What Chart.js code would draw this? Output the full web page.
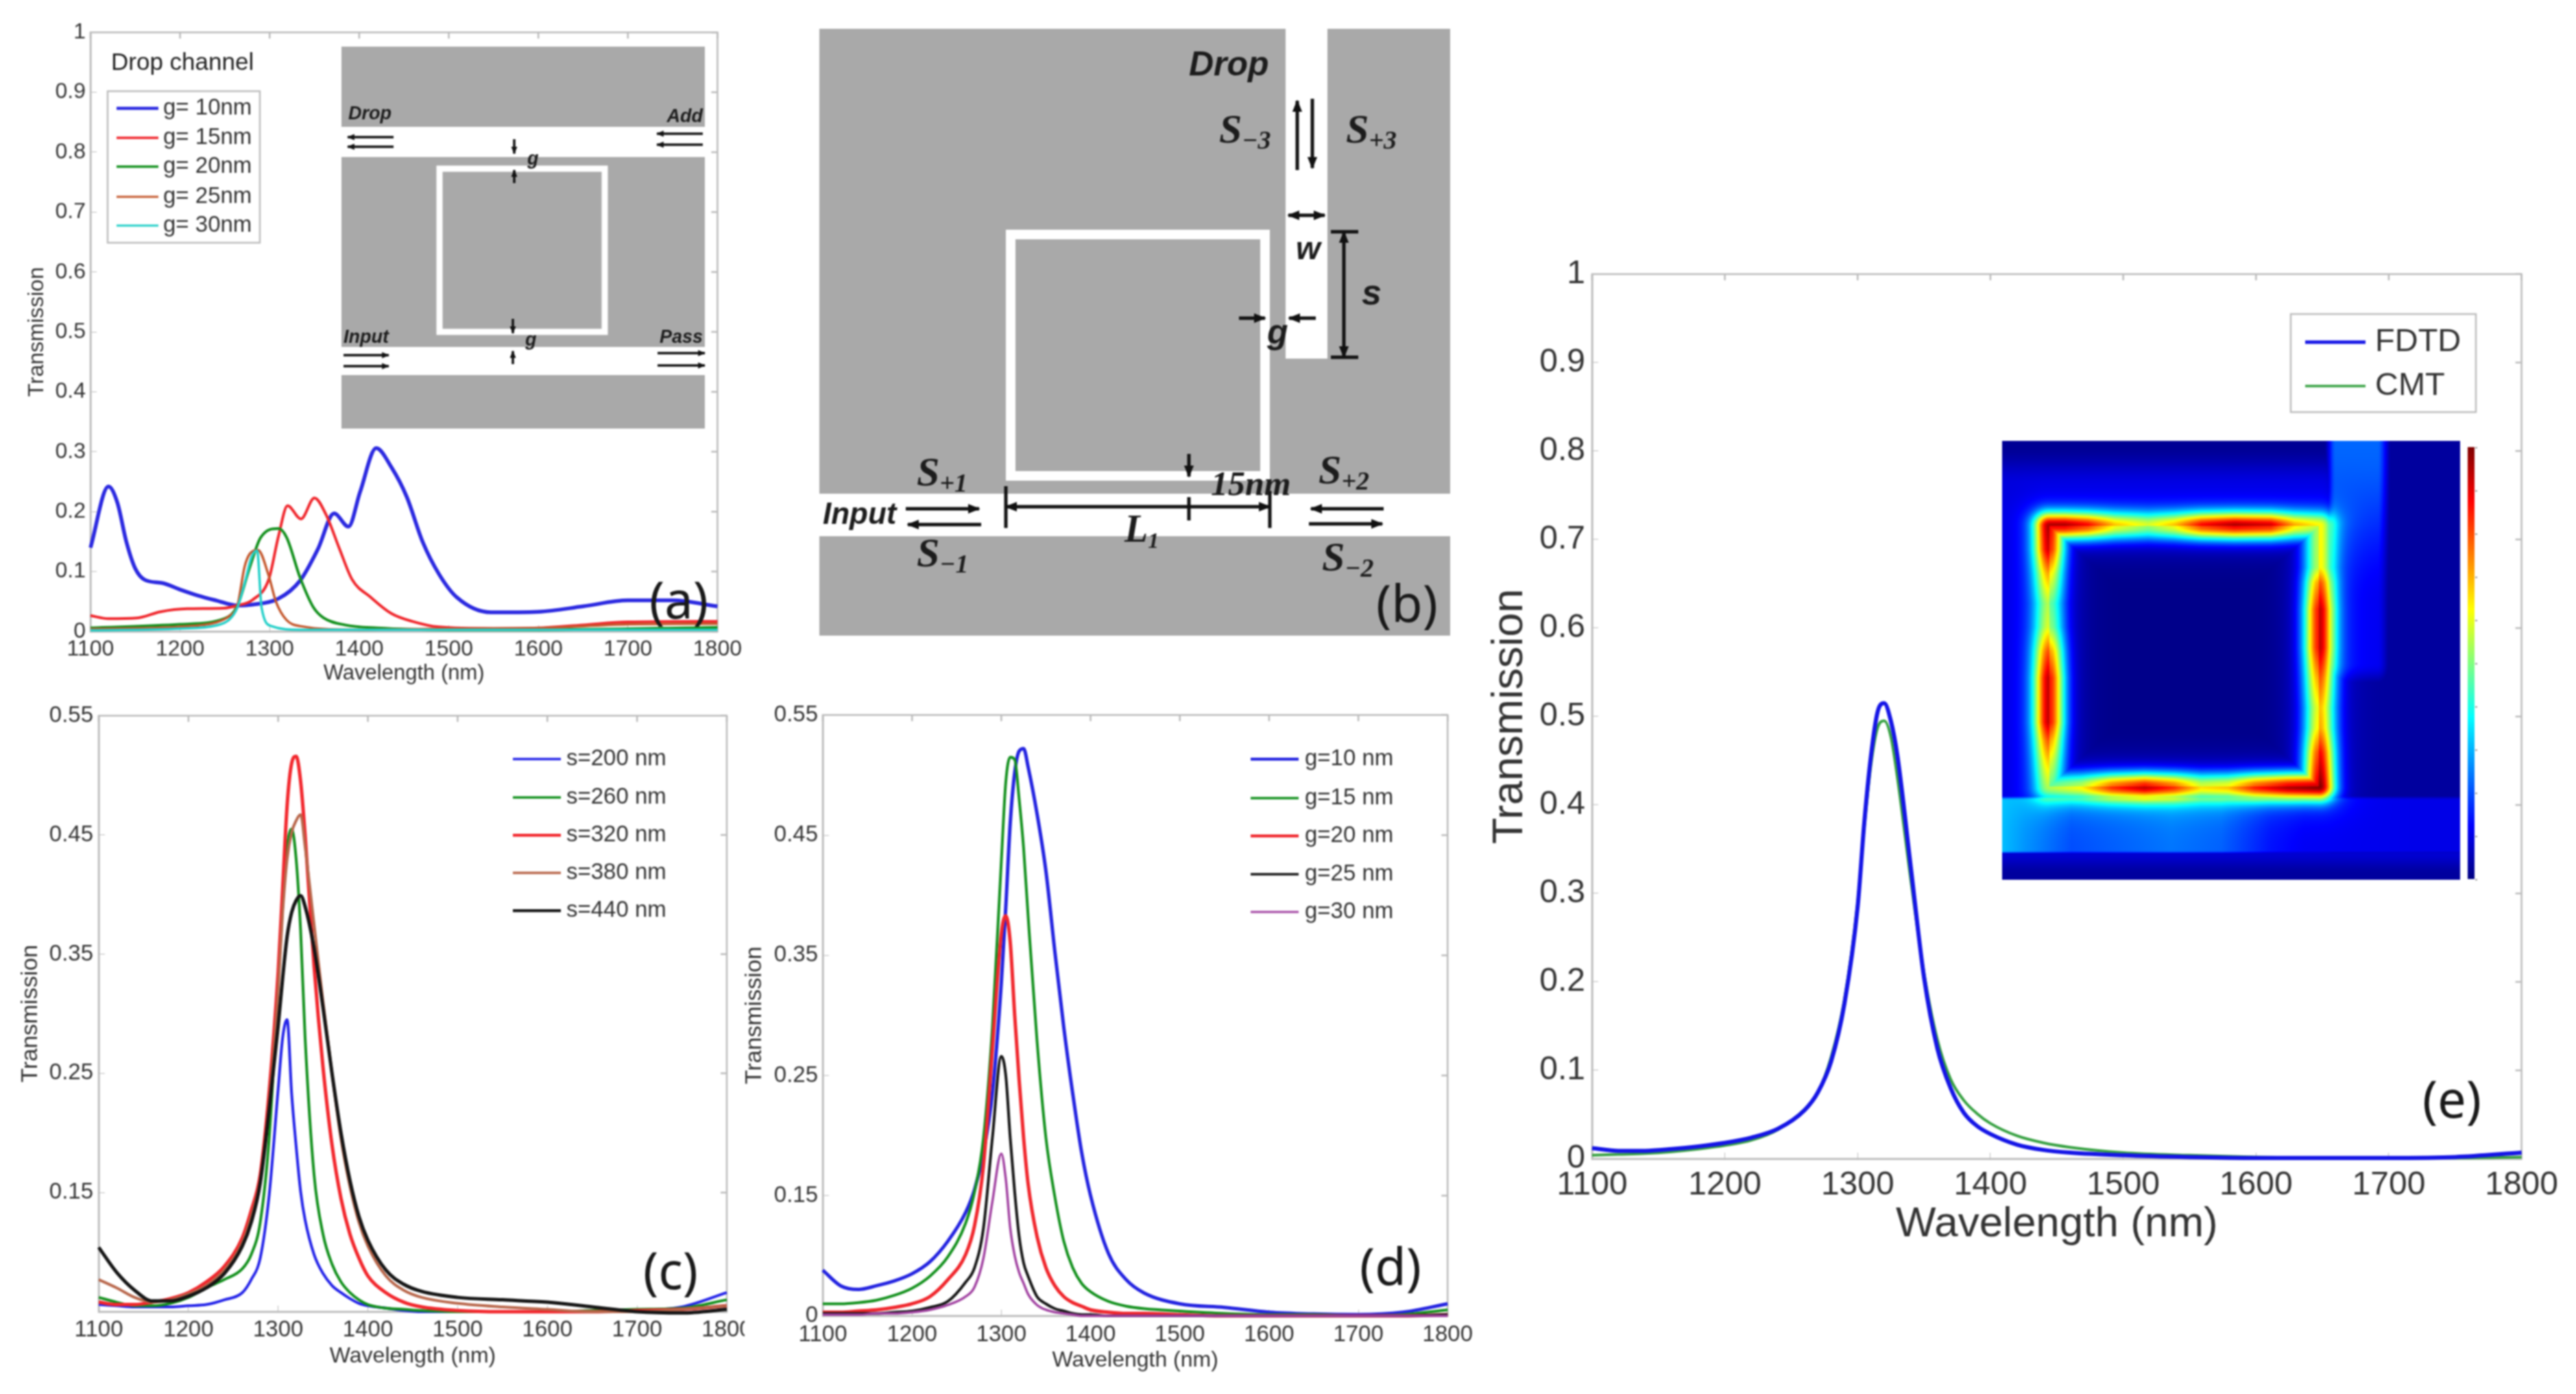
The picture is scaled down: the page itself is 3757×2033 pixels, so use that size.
<!DOCTYPE html>
<html>
<head>
<meta charset="utf-8">
<title>Transmission spectra</title>
<script src="https://cdn.jsdelivr.net/npm/chart.js@4/dist/chart.umd.min.js"></script>
<style>
html, body { margin: 0; padding: 0; background: #fff; }
#page { position: relative; width: 3757px; height: 2033px; overflow: hidden; background: #fff; filter: blur(1.1px); }
#page canvas, #page svg { position: absolute; }
.lab { font-family: "Liberation Sans"; font-weight: bold; font-style: italic; fill: #1c1c1c; }
.sym { font-family: "Liberation Serif"; font-weight: bold; font-style: italic; fill: #1c1c1c; }
.pan { font-family: "Noto Sans"; fill: #181818; font-size: 74px; text-anchor: middle; }
</style>
</head>
<body>
<div id="page">
<canvas id="chartA"></canvas>
<canvas id="chartC"></canvas>
<canvas id="chartD"></canvas>
<canvas id="chartE"></canvas>
<canvas id="heat" width="700" height="650" style="left:2920px;top:643px"></canvas>
<svg width="3757" height="2033" style="left:0;top:0">
  <defs>
    <marker id="ah" viewBox="0 0 10 10" refX="9" refY="5" markerUnits="userSpaceOnUse" markerWidth="18" markerHeight="18" orient="auto-start-reverse"><path d="M0 1L10 5L0 9z" fill="#111"/></marker>
    <marker id="as" viewBox="0 0 10 10" refX="9" refY="5" markerUnits="userSpaceOnUse" markerWidth="11" markerHeight="11" orient="auto-start-reverse"><path d="M0 1L10 5L0 9z" fill="#111"/></marker>
  </defs>

  <!-- inset of (a) -->
  <rect x="498" y="68" width="530" height="557" fill="#a9a9a9"/>
  <rect x="498" y="185" width="530" height="44" fill="#fff"/>
  <rect x="498" y="506" width="530" height="41" fill="#fff"/>
  <rect x="641" y="246" width="241" height="238" fill="none" stroke="#fff" stroke-width="9"/>
  <g stroke="#111" stroke-width="3.5" fill="none" marker-end="url(#as)">
    <line x1="574" y1="200" x2="507" y2="200"/><line x1="574" y1="214" x2="507" y2="214"/>
    <line x1="1025" y1="195" x2="958" y2="195"/><line x1="1025" y1="211" x2="958" y2="211"/>
    <line x1="501" y1="518" x2="567" y2="518"/><line x1="501" y1="534" x2="567" y2="534"/>
    <line x1="959" y1="515" x2="1028" y2="515"/><line x1="959" y1="533" x2="1028" y2="533"/>
    <line x1="750" y1="203" x2="750" y2="224"/><line x1="750" y1="267" x2="750" y2="248"/>
    <line x1="748" y1="465" x2="748" y2="486"/><line x1="748" y1="531" x2="748" y2="512"/>
  </g>
  <g class="lab" font-size="27">
    <text x="508" y="174">Drop</text>
    <text x="1025" y="178" text-anchor="end">Add</text>
    <text x="501" y="500">Input</text>
    <text x="1025" y="500" text-anchor="end">Pass</text>
    <text x="769" y="240">g</text>
    <text x="766" y="504">g</text>
  </g>

  <!-- schematic (b) -->
  <rect x="1195" y="42" width="920" height="885" fill="#a9a9a9"/>
  <rect x="1875" y="42" width="61" height="481" fill="#fff"/>
  <rect x="1195" y="720" width="920" height="62" fill="#fff"/>
  <rect x="1474" y="342" width="371" height="352" fill="none" stroke="#fff" stroke-width="14"/>
  <g stroke="#111" stroke-width="5" fill="none">
    <line x1="1892" y1="248" x2="1892" y2="147" marker-end="url(#ah)"/>
    <line x1="1914" y1="144" x2="1914" y2="245" marker-end="url(#ah)"/>
    <line x1="1879" y1="314" x2="1932" y2="314" marker-end="url(#ah)" marker-start="url(#ah)"/>
    <line x1="1960" y1="338" x2="1960" y2="521" marker-end="url(#ah)" marker-start="url(#ah)"/>
    <line x1="1941" y1="338" x2="1981" y2="338"/><line x1="1941" y1="521" x2="1981" y2="521"/>
    <line x1="1807" y1="464" x2="1845" y2="464" marker-end="url(#ah)"/>
    <line x1="1919" y1="464" x2="1880" y2="464" marker-end="url(#ah)"/>
    <line x1="1734" y1="662" x2="1734" y2="695" marker-end="url(#ah)"/>
    <line x1="1467" y1="739" x2="1852" y2="739" marker-end="url(#ah)" marker-start="url(#ah)"/>
    <line x1="1467" y1="709" x2="1467" y2="770"/><line x1="1852" y1="716" x2="1852" y2="770"/>
    <line x1="1734" y1="725" x2="1734" y2="759"/>
    <line x1="1321" y1="742" x2="1428" y2="742" marker-end="url(#ah)"/>
    <line x1="1431" y1="765" x2="1324" y2="765" marker-end="url(#ah)"/>
    <line x1="2018" y1="742" x2="1912" y2="742" marker-end="url(#ah)"/>
    <line x1="1909" y1="764" x2="2016" y2="764" marker-end="url(#ah)"/>
  </g>
  <text class="lab" x="1734" y="110" font-size="50">Drop</text>
  <text class="lab" x="1200" y="764" font-size="44">Input</text>
  <text class="lab" x="1890" y="378" font-size="46">w</text>
  <text class="lab" x="1986" y="444" font-size="52">s</text>
  <text class="lab" x="1848" y="501" font-size="50">g</text>
  <g class="sym" font-size="60">
    <text x="1778" y="208">S<tspan font-size="38" dy="9">−3</tspan></text>
    <text x="1963" y="208">S<tspan font-size="38" dy="9">+3</tspan></text>
    <text x="1337" y="708">S<tspan font-size="38" dy="9">+1</tspan></text>
    <text x="1337" y="826">S<tspan font-size="38" dy="9">−1</tspan></text>
    <text x="1923" y="705">S<tspan font-size="38" dy="9">+2</tspan></text>
    <text x="1928" y="832">S<tspan font-size="38" dy="9">−2</tspan></text>
    <text x="1640" y="790" font-size="56">L<tspan font-size="32" dy="9">1</tspan></text>
    <text x="1766" y="722" font-size="50">15nm</text>
  </g>

  <text class="pan" x="990" y="902">(a)</text>
  <text class="pan" x="2052" y="907">(b)</text>
  <text class="pan" x="978" y="1880">(c)</text>
  <text class="pan" x="2028" y="1874">(d)</text>
  <text class="pan" x="3576" y="1630">(e)</text>
</svg>
</div>

<script>
// panel (a) - drop channel, every curve has its own sampling
const aBlueX = [1100,1120,1130,1140,1150,1161,1180,1200,1220,1240,1264,1281,1310,1334,1354,1372,1388,1401,1419,1436,1453,1471,1489,1509,1547,1600,1650,1700,1750,1800];
const aBlueY = [0.14,0.242,0.215,0.15,0.105,0.086,0.081,0.07,0.06,0.052,0.0435,0.045,0.055,0.085,0.138,0.197,0.175,0.233,0.306,0.274,0.225,0.149,0.096,0.057,0.032,0.033,0.042,0.052,0.052,0.042];
const aRedX = [1100,1120,1152,1178,1208,1249,1264,1281,1299,1310,1320,1335,1350,1363,1378,1392,1413,1436,1459,1489,1550,1600,1650,1700,1800];
const aRedY = [0.0265,0.0215,0.0227,0.033,0.038,0.039,0.0435,0.053,0.087,0.16,0.21,0.188,0.223,0.195,0.138,0.087,0.057,0.03,0.017,0.0076,0.005,0.006,0.011,0.016,0.017];
const aGreenX = [1100,1200,1250,1264,1278,1290,1310,1319,1334,1349,1360,1384,1420,1500,1600,1800];
const aGreenY = [0.006,0.012,0.022,0.043,0.108,0.157,0.172,0.157,0.09,0.04,0.023,0.011,0.006,0.003,0.003,0.007];
const aBrownX = [1100,1200,1240,1255,1264,1272,1278,1287,1299,1307,1319,1334,1400,1500,1600,1700,1800];
const aBrownY = [0.004,0.008,0.015,0.026,0.043,0.108,0.13,0.136,0.093,0.05,0.019,0.009,0.003,0.005,0.006,0.012,0.013];
const aCyanX = [1100,1200,1240,1255,1264,1272,1280,1286,1291,1302,1334,1800];
const aCyanY = [0.002,0.005,0.01,0.02,0.04,0.08,0.125,0.135,0.04,0.009,0.003,0.003];

// panels (c), (d), (e) share one wavelength grid
const wavelengths = [1100,1120,1140,1160,1180,1200,1220,1240,1260,1270,1280,1290,1300,1305,1310,1315,1320,1325,1330,1340,1350,1360,1370,1380,1390,1400,1420,1440,1460,1500,1550,1600,1650,1700,1750,1800];

const s200 = [0.056,0.055,0.054,0.054,0.054,0.055,0.056,0.06,0.066,0.077,0.095,0.148,0.237,0.28,0.295,0.233,0.189,0.151,0.127,0.098,0.082,0.072,0.066,0.061,0.057,0.055,0.053,0.051,0.05,0.05,0.05,0.05,0.05,0.051,0.054,0.066];
const s260 = [0.062,0.058,0.055,0.055,0.057,0.062,0.07,0.077,0.086,0.098,0.125,0.196,0.326,0.39,0.44,0.455,0.43,0.37,0.28,0.165,0.115,0.09,0.075,0.066,0.06,0.056,0.053,0.052,0.051,0.05,0.05,0.05,0.051,0.052,0.053,0.06];
const s320 = [0.058,0.056,0.056,0.058,0.061,0.066,0.075,0.088,0.112,0.135,0.165,0.235,0.335,0.405,0.475,0.51,0.516,0.495,0.45,0.34,0.255,0.19,0.145,0.115,0.095,0.08,0.066,0.058,0.054,0.051,0.05,0.05,0.05,0.051,0.052,0.055];
const s380 = [0.077,0.07,0.062,0.058,0.06,0.065,0.072,0.085,0.108,0.13,0.16,0.225,0.32,0.385,0.43,0.452,0.462,0.467,0.44,0.375,0.31,0.25,0.195,0.155,0.125,0.105,0.08,0.068,0.062,0.057,0.054,0.052,0.05,0.05,0.052,0.055];
const s440 = [0.104,0.083,0.068,0.059,0.059,0.063,0.07,0.082,0.105,0.125,0.158,0.22,0.29,0.33,0.365,0.385,0.395,0.399,0.39,0.355,0.305,0.25,0.2,0.16,0.13,0.11,0.085,0.073,0.067,0.062,0.06,0.058,0.054,0.05,0.049,0.052];

const g10 = [0.088,0.075,0.072,0.075,0.079,0.085,0.095,0.112,0.136,0.155,0.186,0.235,0.327,0.39,0.46,0.502,0.52,0.522,0.507,0.468,0.42,0.353,0.29,0.235,0.186,0.15,0.102,0.08,0.069,0.06,0.057,0.053,0.0515,0.051,0.053,0.06];
const g15 = [0.06,0.06,0.061,0.063,0.067,0.073,0.083,0.099,0.127,0.153,0.198,0.29,0.428,0.494,0.515,0.513,0.48,0.439,0.383,0.279,0.198,0.149,0.112,0.09,0.077,0.07,0.062,0.058,0.056,0.054,0.052,0.051,0.051,0.05,0.051,0.055];
const g20 = [0.053,0.053,0.054,0.055,0.057,0.06,0.066,0.08,0.101,0.125,0.175,0.272,0.368,0.383,0.361,0.3,0.246,0.198,0.16,0.116,0.09,0.075,0.066,0.061,0.058,0.055,0.053,0.052,0.052,0.051,0.05,0.05,0.05,0.05,0.05,0.051];
const g25 = [0.052,0.052,0.052,0.052,0.053,0.054,0.057,0.062,0.078,0.09,0.123,0.198,0.266,0.25,0.198,0.153,0.116,0.094,0.083,0.066,0.06,0.056,0.054,0.052,0.051,0.051,0.05,0.05,0.05,0.05,0.05,0.05,0.05,0.05,0.05,0.051];
const g30 = [0.051,0.051,0.051,0.052,0.052,0.053,0.055,0.059,0.066,0.074,0.098,0.145,0.185,0.164,0.123,0.1,0.086,0.077,0.068,0.059,0.055,0.053,0.052,0.051,0.05,0.05,0.05,0.05,0.05,0.05,0.05,0.05,0.05,0.05,0.05,0.05];

const fdtd = [0.012,0.009,0.009,0.011,0.014,0.018,0.024,0.034,0.055,0.075,0.11,0.175,0.285,0.38,0.455,0.505,0.515,0.495,0.455,0.33,0.205,0.125,0.08,0.052,0.037,0.028,0.016,0.01,0.007,0.004,0.002,0.001,0.001,0.001,0.002,0.007];
const cmt = [0.004,0.005,0.006,0.008,0.011,0.015,0.021,0.033,0.056,0.075,0.115,0.18,0.29,0.375,0.445,0.487,0.495,0.477,0.43,0.315,0.21,0.135,0.09,0.066,0.051,0.04,0.026,0.018,0.013,0.007,0.004,0.002,0.001,0.001,0.001,0.002];

// tick labels
const xTicks = ['1100','1200','1300','1400','1500','1600','1700','1800'];
const yTicksFull = ['0','0.1','0.2','0.3','0.4','0.5','0.6','0.7','0.8','0.9','1'];
const yTicksC = ['','0.15','0.25','0.35','0.45','0.55'];
const yTicksD = ['0','0.15','0.25','0.35','0.45','0.55'];

const namesA = ['g= 10nm','g= 15nm','g= 20nm','g= 25nm','g= 30nm'];
const namesC = ['s=200 nm','s=260 nm','s=320 nm','s=380 nm','s=440 nm'];
const namesD = ['g=10 nm','g=15 nm','g=20 nm','g=25 nm','g=30 nm'];
const namesE = ['FDTD','CMT'];

Chart.defaults.font.family = '"Liberation Sans", Arial, sans-serif';
Chart.defaults.color = '#333';

function zip(xs, ys) {
    return ys.map((y, i) => ({ x: xs[i], y: y }));
}

function series(label, xs, ys, color, width, order) {
    return {
        label: label,
        data: zip(xs, ys),
        borderColor: color,
        backgroundColor: color,
        borderWidth: width,
        pointRadius: 0,
        cubicInterpolationMode: 'monotone',
        clip: false,
        order: order
    };
}

// gray box top and right sides with their inward ticks
const framePlugin = {
    id: 'frame',
    beforeDatasetsDraw(chart) {
        const { ctx, chartArea: a, scales: { x, y } } = chart;
        ctx.save();
        ctx.strokeStyle = '#bbb';
        ctx.lineWidth = 2.5;
        ctx.strokeRect(a.left, a.top, a.right - a.left, a.bottom - a.top);
        ctx.beginPath();
        x.ticks.forEach(t => {
            const px = x.getPixelForValue(t.value);
            ctx.moveTo(px, a.top);
            ctx.lineTo(px, a.top + 9);
        });
        y.ticks.forEach(t => {
            const py = y.getPixelForValue(t.value);
            ctx.moveTo(a.right, py);
            ctx.lineTo(a.right - 9, py);
        });
        ctx.stroke();
        ctx.restore();
    }
};

// legend sits inside the axes, so it is drawn by hand from the datasets
function legendPlugin(lg, off) {
    return {
        id: 'insideLegend',
        afterDatasetsDraw(chart) {
            const ctx = chart.ctx;
            ctx.save();
            if (lg.box) {
                ctx.strokeStyle = '#bdbdbd';
                ctx.lineWidth = 2.5;
                ctx.fillStyle = '#fff';
                const b = lg.box;
                ctx.fillRect(b[0] - off.x, b[1] - off.y, b[2] - b[0], b[3] - b[1]);
                ctx.strokeRect(b[0] - off.x, b[1] - off.y, b[2] - b[0], b[3] - b[1]);
            }
            ctx.textBaseline = 'middle';
            ctx.font = lg.size + 'px "Liberation Sans"';
            if (lg.title) {
                ctx.fillStyle = '#222';
                ctx.font = lg.titleSize + 'px "Liberation Sans"';
                ctx.fillText(lg.title, lg.titleX - off.x, lg.titleY - off.y);
                ctx.font = lg.size + 'px "Liberation Sans"';
            }
            chart.data.datasets.forEach((ds, i) => {
                const yy = lg.rows[i] - off.y;
                ctx.strokeStyle = ds.borderColor;
                ctx.lineWidth = Math.max(3, ds.borderWidth * 0.85);
                ctx.beginPath();
                ctx.moveTo(lg.x1 - off.x, yy);
                ctx.lineTo(lg.x2 - off.x, yy);
                ctx.stroke();
                ctx.fillStyle = '#333';
                ctx.fillText(ds.label, lg.tx - off.x, yy);
            });
            ctx.restore();
        }
    };
}

function makePanel(id, p) {
    const cv = document.getElementById(id);
    const w = p.r - p.l + p.mL + p.mR;
    const h = p.b - p.t + p.mT + p.mB;
    const off = { x: p.l - p.mL, y: p.t - p.mT };
    cv.width = w;
    cv.height = h;
    cv.style.left = off.x + 'px';
    cv.style.top = off.y + 'px';
    if (p.clipRight) cv.style.clipPath = 'inset(0 ' + p.clipRight + 'px 0 0)';
    new Chart(cv.getContext('2d'), {
        type: 'line',
        data: { datasets: p.datasets },
        options: {
            responsive: false,
            animation: false,
            devicePixelRatio: 1,
            layout: { padding: { top: p.mT, right: p.mR, left: 0, bottom: 0 } },
            plugins: { legend: { display: false }, tooltip: { enabled: false } },
            scales: {
                x: {
                    type: 'linear', min: 1100, max: 1800,
                    afterFit: s => { s.height = p.mB; },
                    border: { color: '#bbb', width: 2.5 },
                    grid: { drawOnChartArea: false, tickLength: -9, color: '#bbb' },
                    ticks: {
                        stepSize: 100, autoSkip: false, maxRotation: 0, padding: p.xPad,
                        font: { size: p.tickSize },
                        callback: (v, i) => xTicks[i]
                    },
                    title: { display: true, text: 'Wavelength (nm)', padding: 0, font: { size: p.xTitle } }
                },
                y: {
                    type: 'linear', min: p.yMin, max: p.yMax,
                    afterFit: s => { s.width = p.mL; },
                    border: { color: '#bbb', width: 2.5 },
                    grid: { drawOnChartArea: false, tickLength: -9, color: '#bbb' },
                    ticks: {
                        stepSize: p.yStep, autoSkip: false, padding: p.yPad,
                        font: { size: p.tickSize },
                        callback: (v, i) => p.yLabels[i]
                    },
                    title: { display: true, text: 'Transmission', padding: 0, font: { size: p.yTitle } }
                }
            }
        },
        plugins: [framePlugin, legendPlugin(p.legend, off)]
    });
}

makePanel('chartA', {
    l: 132, r: 1048, t: 42, b: 921, mL: 97, mR: 50, mT: 30, mB: 80,
    yMin: 0, yMax: 1, yStep: 0.1, yLabels: yTicksFull,
    tickSize: 32, xTitle: 31, yTitle: 32, xPad: 16, yPad: 16,
    datasets: [
        series(namesA[0], aBlueX, aBlueY, '#2a28e0', 5.5, 4),
        series(namesA[1], aRedX, aRedY, '#f0262c', 4, 3),
        series(namesA[2], aGreenX, aGreenY, '#12901c', 4, 2),
        series(namesA[3], aBrownX, aBrownY, '#c4572c', 3.5, 1),
        series(namesA[4], aCyanX, aCyanY, '#22cfc8', 3.5, 0)
    ],
    legend: {
        box: [157, 133, 379, 354], title: 'Drop channel', titleSize: 35, titleX: 162, titleY: 92,
        rows: [158, 201, 243, 287, 329], x1: 170, x2: 231, tx: 238, size: 33
    }
});

makePanel('chartC', {
    l: 144, r: 1060, t: 1037, b: 1913, mL: 120, mR: 60, mT: 30, mB: 84, clipRight: 34,
    yMin: 0.05, yMax: 0.55, yStep: 0.1, yLabels: yTicksC,
    tickSize: 33, xTitle: 32, yTitle: 34, xPad: 16, yPad: 17,
    datasets: [
        series(namesC[0], wavelengths, s200, '#2222e8', 4, 4),
        series(namesC[1], wavelengths, s260, '#12901c', 4, 3),
        series(namesC[2], wavelengths, s320, '#f2262c', 5, 2),
        series(namesC[3], wavelengths, s380, '#b8664a', 4, 1),
        series(namesC[4], wavelengths, s440, '#141414', 5, 0)
    ],
    legend: { rows: [1107, 1163, 1218, 1273, 1328], x1: 748, x2: 818, tx: 826, size: 33 }
});

makePanel('chartD', {
    l: 1200, r: 2115, t: 1037, b: 1919, mL: 120, mR: 50, mT: 30, mB: 84,
    yMin: 0.05, yMax: 0.55, yStep: 0.1, yLabels: yTicksD,
    tickSize: 33, xTitle: 32, yTitle: 34, xPad: 17, yPad: 16,
    datasets: [
        series(namesD[0], wavelengths, g10, '#2222e0', 5, 4),
        series(namesD[1], wavelengths, g15, '#12901c', 4, 3),
        series(namesD[2], wavelengths, g20, '#f0262c', 5, 2),
        series(namesD[3], wavelengths, g25, '#141414', 4, 1),
        series(namesD[4], wavelengths, g30, '#a040a0', 3.5, 0)
    ],
    legend: { rows: [1107, 1164, 1219, 1275, 1330], x1: 1824, x2: 1894, tx: 1903, size: 33 }
});

makePanel('chartE', {
    l: 2322, r: 3680, t: 392, b: 1690, mL: 157, mR: 70, mT: 40, mB: 133,
    yMin: 0, yMax: 1, yStep: 0.1, yLabels: yTicksFull,
    tickSize: 48, xTitle: 62, yTitle: 63, xPad: 19, yPad: 19,
    datasets: [
        series(namesE[0], wavelengths, fdtd, '#1414e6', 6, 0),
        series(namesE[1], wavelengths, cmt, '#35a040', 4, 1)
    ],
    legend: {
        box: [3341, 458, 3611, 601],
        rows: [499, 563], x1: 3362, x2: 3450, tx: 3464, size: 47
    }
});

// field map inside (e), drawn as an image, it is not one of the plotted series
function jet(v) {
    v = Math.max(0, Math.min(1, v));
    const ramp = t => Math.max(0, Math.min(1, t));
    return [
        255 * ramp(Math.min(4 * v - 1.5, -4 * v + 4.5)),
        255 * ramp(Math.min(4 * v - 0.5, -4 * v + 3.5)),
        255 * ramp(Math.min(4 * v + 0.5, -4 * v + 2.5))
    ];
}

function stops(list, t) {
    if (t <= list[0][0]) return list[0][1];
    for (let i = 1; i < list.length; i++) {
        if (t <= list[i][0]) {
            const a = list[i - 1], b = list[i];
            return a[1] + (b[1] - a[1]) * (t - a[0]) / (b[0] - a[0]);
        }
    }
    return list[list.length - 1][1];
}

function smooth(a, b, t) {
    const k = Math.max(0, Math.min(1, (t - a) / (b - a)));
    return k * k * (3 - 2 * k);
}

function drawHeat() {
    const cv = document.getElementById('heat');
    const ctx = cv.getContext('2d');
    const W = 668, H = 640;
    const img = ctx.createImageData(W, H);
    const top = [[183,.95],[230,.95],[300,.85],[380,.62],[480,.5],[560,.62],[640,.85],[740,.95],[850,.9],[920,.65],[995,.55]];
    const right = [[340,.55],[480,.55],[530,.75],[620,.92],[750,.92],[850,.75],[950,.62],[1020,.65],[1100,.85],[1215,1]];
    const bottom = [[183,.45],[280,.55],[370,.8],[470,.93],[560,.8],[640,.58],[720,.62],[800,.82],[900,.95],[995,1]];
    const left = [[340,.95],[420,.9],[500,.65],[600,.45],[680,.5],[760,.75],[850,.92],[1000,.92],[1060,.75],[1130,.6],[1215,.45]];
    const L = 183, R = 995, T = 340, B = 1215;
    for (let py = 0; py < H; py++) {
        for (let px = 0; px < W; px++) {
            // work in the coordinates of the crop used to read the map
            const cx = 42 + px * 1378 / 668, cy = 55 + py * 1475 / 640;
            const dL = Math.abs(cx - L), dR = Math.abs(cx - R), dT = Math.abs(cy - T), dB = Math.abs(cy - B);
            const ix = Math.max(L, Math.min(R, cx)), iy = Math.max(T, Math.min(B, cy));
            const inX = cx >= L && cx <= R, inY = cy >= T && cy <= B;
            let d, amp;
            if (inX && inY) {
                const m = Math.min(dL, dR, dT, dB);
                d = m;
                amp = m === dT ? stops(top, cx) : m === dB ? stops(bottom, cx) : m === dL ? stops(left, cy) : stops(right, cy);
            } else {
                d = Math.hypot(cx - ix, cy - iy);
                if (inX) amp = cy < T ? stops(top, cx) : stops(bottom, cx);
                else if (cx < L) amp = stops(left, iy);
                else amp = stops(right, iy);
            }
            let bg = 0.01;
            if (!(inX && inY)) {
                const nearLeft = 0.02 + 0.07 * smooth(70, 200, cy);
                bg = nearLeft + (0.03 - nearLeft) * smooth(1000, 1100, cx);
            }
            // waveguide running up on the right of the ring
            const vb = smooth(1005, 1045, cx) * (1 - smooth(1170, 1220, cx)) * (1 - smooth(800, 900, cy));
            bg = Math.max(bg, vb * (0.225 - 0.115 * smooth(60, 600, cy)));
            // waveguide along the bottom
            const hb = smooth(1240, 1262, cy) * (1 - smooth(1430, 1450, cy));
            const hv = stops([[42, .31], [110, .27], [250, .2], [550, .24], [700, .22], [850, .14], [950, .115], [1420, .1]], cx);
            bg = Math.max(bg, hb * hv);
            if (cy > 1440) bg = 0.03 + 0.05 * (1 - smooth(1440, 1510, cy));
            const v = bg + 0.82 * amp * Math.exp(-(d * d) / (46 * 46)) + 0.09 * Math.exp(-(d * d) / (95 * 95));
            const c = jet(v);
            const k = (py * W + px) * 4;
            img.data[k] = c[0];
            img.data[k + 1] = c[1];
            img.data[k + 2] = c[2];
            img.data[k + 3] = 255;
        }
    }
    ctx.putImageData(img, 0, 0);
    // colour bar
    for (let yy = 0; yy < 630; yy++) {
        const c = jet(1 - yy / 630);
        ctx.fillStyle = 'rgb(' + c.map(Math.round).join(',') + ')';
        ctx.fillRect(679, 9 + yy, 10, 1);
    }
    ctx.fillStyle = '#999';
    for (let n = 0; n <= 10; n++) {
        ctx.fillRect(690, 9 + n * 63, 3, 2);
    }
}

drawHeat();
</script>
</body>
</html>
